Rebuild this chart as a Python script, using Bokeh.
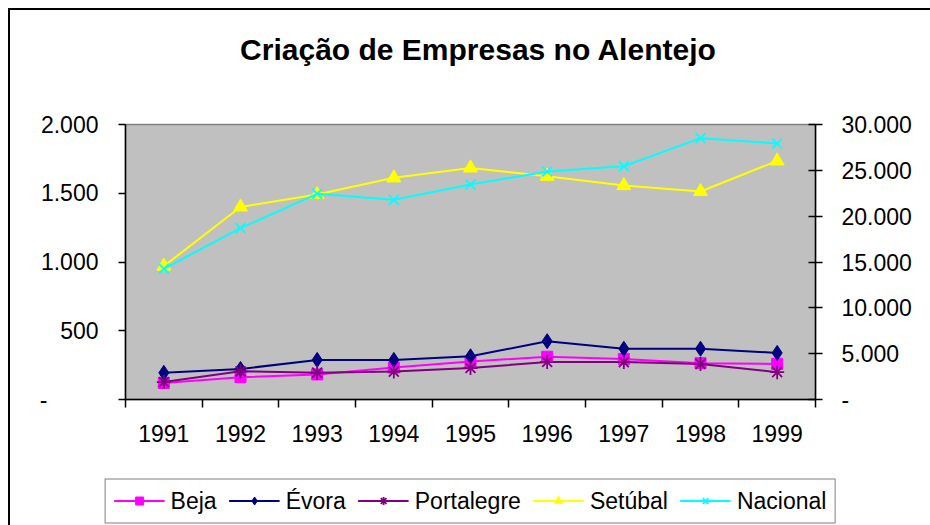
from bokeh.plotting import figure
from bokeh.layouts import column
from bokeh.models import (Range1d, LinearAxis, FixedTicker, Legend, LegendItem)
from bokeh.embed import file_html
from bokeh.resources import INLINE

# ---- data ----
years = [1991, 1992, 1993, 1994, 1995, 1996, 1997, 1998, 1999]
year_labels = ["1991", "1992", "1993", "1994", "1995", "1996", "1997", "1998", "1999"]
beja = [120, 162, 182, 232, 276, 311, 295, 264, 259]
evora = [194, 222, 288, 288, 314, 424, 369, 369, 339]
portalegre = [127, 205, 195, 203, 229, 273, 272, 259, 199]
setubal = [970, 1400, 1491, 1612, 1684, 1624, 1556, 1513, 1735]
nacional = [14260, 18690, 22440, 21780, 23450, 24870, 25450, 28510, 27930]

left_ticks = [0, 500, 1000, 1500, 2000]
left_tick_labels = ["-" + "\u00a0" * 8, "500", "1.000", "1.500", "2.000"]
right_ticks = [0, 5000, 10000, 15000, 20000, 25000, 30000]
right_tick_labels = ["-", "5.000", "10.000", "15.000", "20.000", "25.000", "30.000"]

FONT = "Liberation Sans"
TICK_FS = "23px"


def no_frame_align(fig):
    if "frame_align" in fig.properties():
        fig.frame_align = False


def blank(fig):
    fig.background_fill_color = "white"
    fig.border_fill_color = "white"
    fig.outline_line_color = None
    fig.xgrid.visible = False
    fig.ygrid.visible = False


# ---- title strip ----
p0 = figure(width=920, height=64, output_backend="svg", toolbar_location=None,
            x_range=Range1d(0, 1), y_range=Range1d(0, 1),
            min_border_left=16, min_border_right=0, min_border_top=55,
            min_border_bottom=0, x_axis_location=None, y_axis_location=None)
blank(p0)
no_frame_align(p0)
p0.title.text = "Criação de Empresas no Alentejo"
p0.title.text_font = FONT
p0.title.text_font_size = "30px"
p0.title.text_font_style = "bold"
p0.title.text_color = "black"
p0.title.align = "center"
p0.title.standoff = 0

# ---- main chart ----
p = figure(width=920, height=402, output_backend="svg", toolbar_location=None,
           x_range=Range1d(1990.5, 1999.5), y_range=Range1d(0, 2000),
           min_border_left=115, min_border_right=115, min_border_top=50,
           min_border_bottom=77, y_axis_location=None, x_axis_location=None)
no_frame_align(p)
p.title.visible = False
p.extra_y_ranges = {"nac": Range1d(0, 30000)}

p.background_fill_color = "#C0C0C0"
p.border_fill_color = "white"
p.outline_line_color = "#808080"
p.outline_line_width = 1.5
p.xgrid.visible = False
p.ygrid.visible = False

# x axis
xa = LinearAxis(ticker=FixedTicker(ticks=years, minor_ticks=[y - 0.5 for y in years] + [years[-1] + 0.5]))
xa.major_label_overrides = {y: l for y, l in zip(years, year_labels)}
xa.major_tick_out = 0
xa.major_tick_in = 0
xa.minor_tick_out = 8
xa.minor_tick_in = 0
xa.minor_tick_line_color = "black"
xa.minor_tick_line_width = 1.5
xa.axis_line_color = "black"
xa.axis_line_width = 1.5
xa.major_label_standoff = 17
xa.major_label_text_font = FONT
xa.major_label_text_font_size = TICK_FS
xa.major_label_text_color = "black"
p.add_layout(xa, "below")

# left axis
ya = LinearAxis(ticker=FixedTicker(ticks=left_ticks, minor_ticks=[]))
ya.major_label_overrides = {t: l for t, l in zip(left_ticks, left_tick_labels)}
ya.major_tick_out = 7
ya.major_tick_in = 0
ya.minor_tick_out = 0
ya.major_tick_line_width = 1.5
ya.axis_line_width = 1.5
ya.major_label_standoff = 20
ya.major_label_text_font = FONT
ya.major_label_text_font_size = TICK_FS
ya.major_label_text_color = "black"
p.add_layout(ya, "left")

# right axis
ra = LinearAxis(y_range_name="nac", ticker=FixedTicker(ticks=right_ticks, minor_ticks=[]))
ra.major_label_overrides = {t: l for t, l in zip(right_ticks, right_tick_labels)}
ra.major_tick_out = 7
ra.major_tick_in = 7
ra.minor_tick_out = 0
ra.major_tick_line_width = 1.5
ra.axis_line_width = 1.5
ra.major_label_standoff = 19
ra.major_label_text_font = FONT
ra.major_label_text_font_size = TICK_FS
ra.major_label_text_color = "black"
p.add_layout(ra, "right")

series = [
    ("Beja", beja, "#FF00FF", "square", 11, "default"),
    ("Évora", evora, "#000080", "diamond", 15, "default"),
    ("Portalegre", portalegre, "#800080", "asterisk", 14, "default"),
    ("Setúbal", setubal, "#FFFF00", "triangle", 14, "default"),
    ("Nacional", nacional, "#00FFFF", "x", 14, "nac"),
]

# ---- legend strip ----
p2 = figure(width=920, height=49, output_backend="svg", toolbar_location=None,
            x_range=Range1d(1990.5, 1999.5), y_range=Range1d(100000, 100001),
            min_border_left=0, min_border_right=0, min_border_top=0,
            min_border_bottom=0, x_axis_location=None, y_axis_location=None)
p2.extra_y_ranges = {"nac": Range1d(1000000, 1000001)}
blank(p2)
no_frame_align(p2)
p2.title.visible = False


def draw(fig, vals, color, marker, size, rng):
    l = fig.line(years, vals, line_color=color, line_width=2, y_range_name=rng)
    if marker in ("asterisk", "x"):
        s = fig.scatter(years, vals, marker=marker, size=size, line_color=color,
                        line_width=1.8, y_range_name=rng)
    else:
        s = fig.scatter(years, vals, marker=marker, size=size, fill_color=color,
                        line_color=color, y_range_name=rng)
    return l, s


items = []
for name, vals, color, marker, size, rng in series:
    draw(p, vals, color, marker, size, rng)
    l2, s2 = draw(p2, vals, color, marker, 10, rng)
    items.append(LegendItem(label=name, renderers=[l2, s2]))

legend = Legend(items=items, orientation="horizontal", location="center")
legend.label_text_font = FONT
legend.label_text_font_size = "23px"
legend.label_text_color = "black"
legend.glyph_width = 51
legend.glyph_height = 20
legend.label_standoff = 6
legend.spacing = 12
legend.padding = 8
legend.margin = 0
legend.border_line_color = "black"
legend.border_line_width = 1.5
legend.background_fill_color = "white"
legend.background_fill_alpha = 1
p2.add_layout(legend, "center")

root = column(p0, p, p2, spacing=0)
root.styles = {"border-top": "2px solid black", "border-left": "2px solid black",
               "margin-left": "8px", "margin-top": "8px",
               "box-sizing": "content-box", "max-width": "none"}

open("out.html", "w").write(file_html(root, INLINE))
